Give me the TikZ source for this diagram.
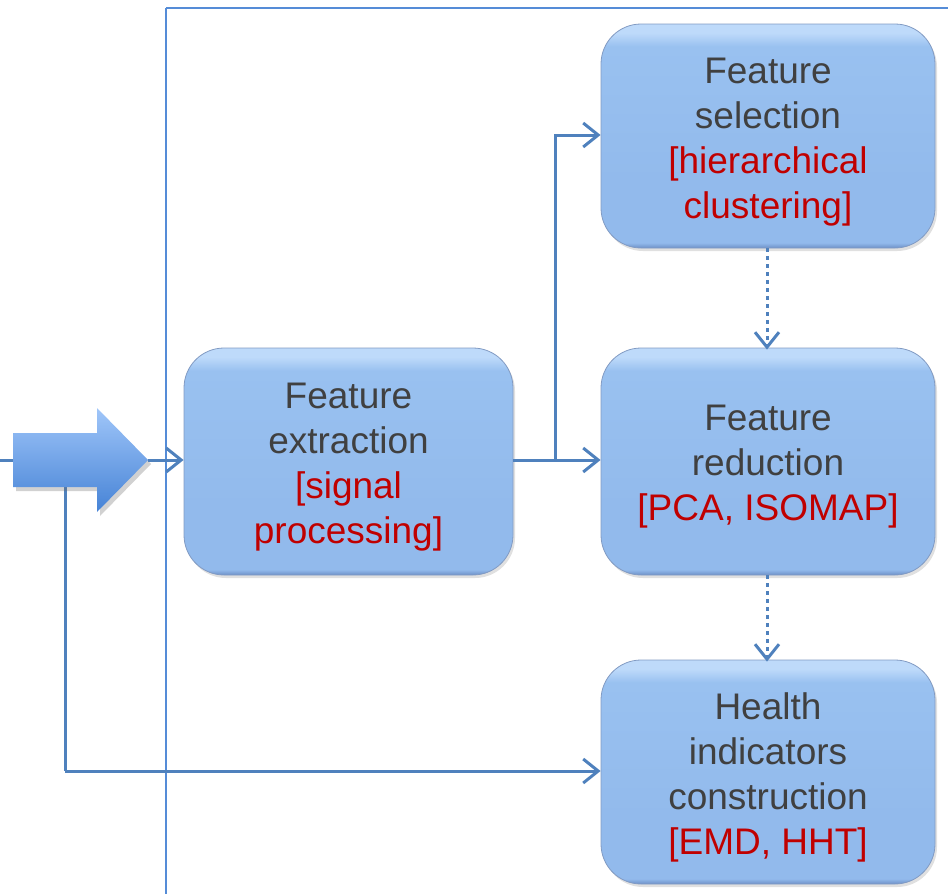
\documentclass[tikz,border=0pt]{standalone}
\usepackage{fontspec}
\setmainfont{Liberation Sans}
\usetikzlibrary{arrows.meta,shadows}
\definecolor{boxtop}{RGB}{190,218,250}
\definecolor{boxmid}{RGB}{153,193,240}
\definecolor{boxlow}{RGB}{146,186,236}
\definecolor{boxbot}{RGB}{110,145,200}
\definecolor{boxedge}{RGB}{130,155,195}
\definecolor{conn}{RGB}{79,129,189}
\definecolor{framec}{RGB}{85,140,215}
\definecolor{txtgray}{RGB}{64,64,64}
\definecolor{txtred}{RGB}{192,0,0}
\definecolor{arrtop}{RGB}{160,198,249}
\definecolor{arrbot}{RGB}{70,131,214}
% bevelled fill: bright rim at the top, dark rim at the bottom (path spans 25bp..75bp)
\pgfdeclareverticalshading{bevel}{100bp}{color(0bp)=(boxbot); color(25bp)=(boxbot);
  color(26.2bp)=(boxlow); color(40bp)=(boxlow); color(70bp)=(boxmid);
  color(73bp)=(boxtop); color(75bp)=(boxtop); color(100bp)=(boxtop)}
\tikzset{
  stepbox/.style={rounded corners=40pt, draw=boxedge, line width=0.8pt,
    shading=bevel,
    drop shadow={shadow xshift=2pt, shadow yshift=-3pt, opacity=0.2, fill=black!60},
    minimum width=334pt, inner sep=0pt},
  steptext/.style={align=center, text=txtgray, inner sep=0pt,
    font=\fontsize{37}{45}\selectfont},
  link/.style={draw=conn, line width=3pt, -{Straight Barb[length=15pt,width=24pt]}},
  dotlink/.style={draw=conn, line width=3pt, dash pattern=on 4pt off 4pt,
    -{Straight Barb[length=15pt,width=24pt]}},
  plain/.style={draw=conn, line width=3pt}
}
\begin{document}
\begin{tikzpicture}[x=1pt,y=-1pt]
\useasboundingbox (0,0) rectangle (948,894);
\begin{scope}
\clip (0,0) rectangle (948,894);
% outer frame
\draw[framec, line width=2pt] (166,8) -- (960,8);
\draw[framec, line width=2pt] (166,8) -- (166,900);

% input line and bypass to health indicators
\coordinate (in0) at (0,460);
\coordinate (bypassTop) at (65,487);
\coordinate (bypassCorner) at (65,771);

% process boxes
\node[stepbox, minimum width=329pt, minimum height=227pt] (extract) at (348.5,461.5) {};
\node[stepbox, minimum height=224pt] (select) at (768,136) {};
\node[stepbox, minimum height=227pt] (reduce) at (768,461.5) {};
\node[stepbox, minimum height=224pt] (health) at (768,772) {};

% box captions
\node[steptext] (extractText) at ([yshift=-6pt]extract.center)
  {Feature\\extraction\\{\color{txtred}[signal}\\{\color{txtred}processing]}};
\node[steptext] (selectText) at ([yshift=-6pt]select.center)
  {Feature\\selection\\{\color{txtred}[hierarchical}\\{\color{txtred}clustering]}};
\node[steptext] (reduceText) at ([yshift=-5pt]reduce.center)
  {Feature\\reduction\\{\color{txtred}[PCA, ISOMAP]}};
\node[steptext] (healthText) at ([yshift=-5pt]health.center)
  {Health\\indicators\\construction\\{\color{txtred}[EMD, HHT]}};

% bypass line
\draw[plain] (bypassTop) -- (bypassCorner);
\draw[link] (bypassCorner) -- (health.west |- bypassCorner);
\draw[plain] (in0) -- (14,460);

% block arrow
\path[top color=arrtop, bottom color=arrbot, draw=none,
  drop shadow={shadow xshift=3pt, shadow yshift=-4pt, opacity=0.3, fill=black!60}]
  (13,433) -- (97,433) -- (97,408) -- (148,460) -- (97,512) -- (97,487) -- (13,487) -- cycle;
\coordinate (bigtip) at (148,460);
\draw[link] (bigtip) -- (extract.west |- bigtip);

% branches out of feature extraction
\coordinate (split) at (555,460);
\draw[plain] (extract.east |- split) -- (split);
\draw[link] (split) -- (reduce.west |- split);
\draw[link] (split) |- (select.west |- 0,135);

% dotted flow between stages
\draw[dotlink] (select.south -| 767,0) -- ([yshift=-2pt]reduce.north -| 767,0);
\draw[dotlink] (reduce.south -| 767,0) -- ([yshift=-2pt]health.north -| 767,0);
\end{scope}
\end{tikzpicture}
\end{document}
